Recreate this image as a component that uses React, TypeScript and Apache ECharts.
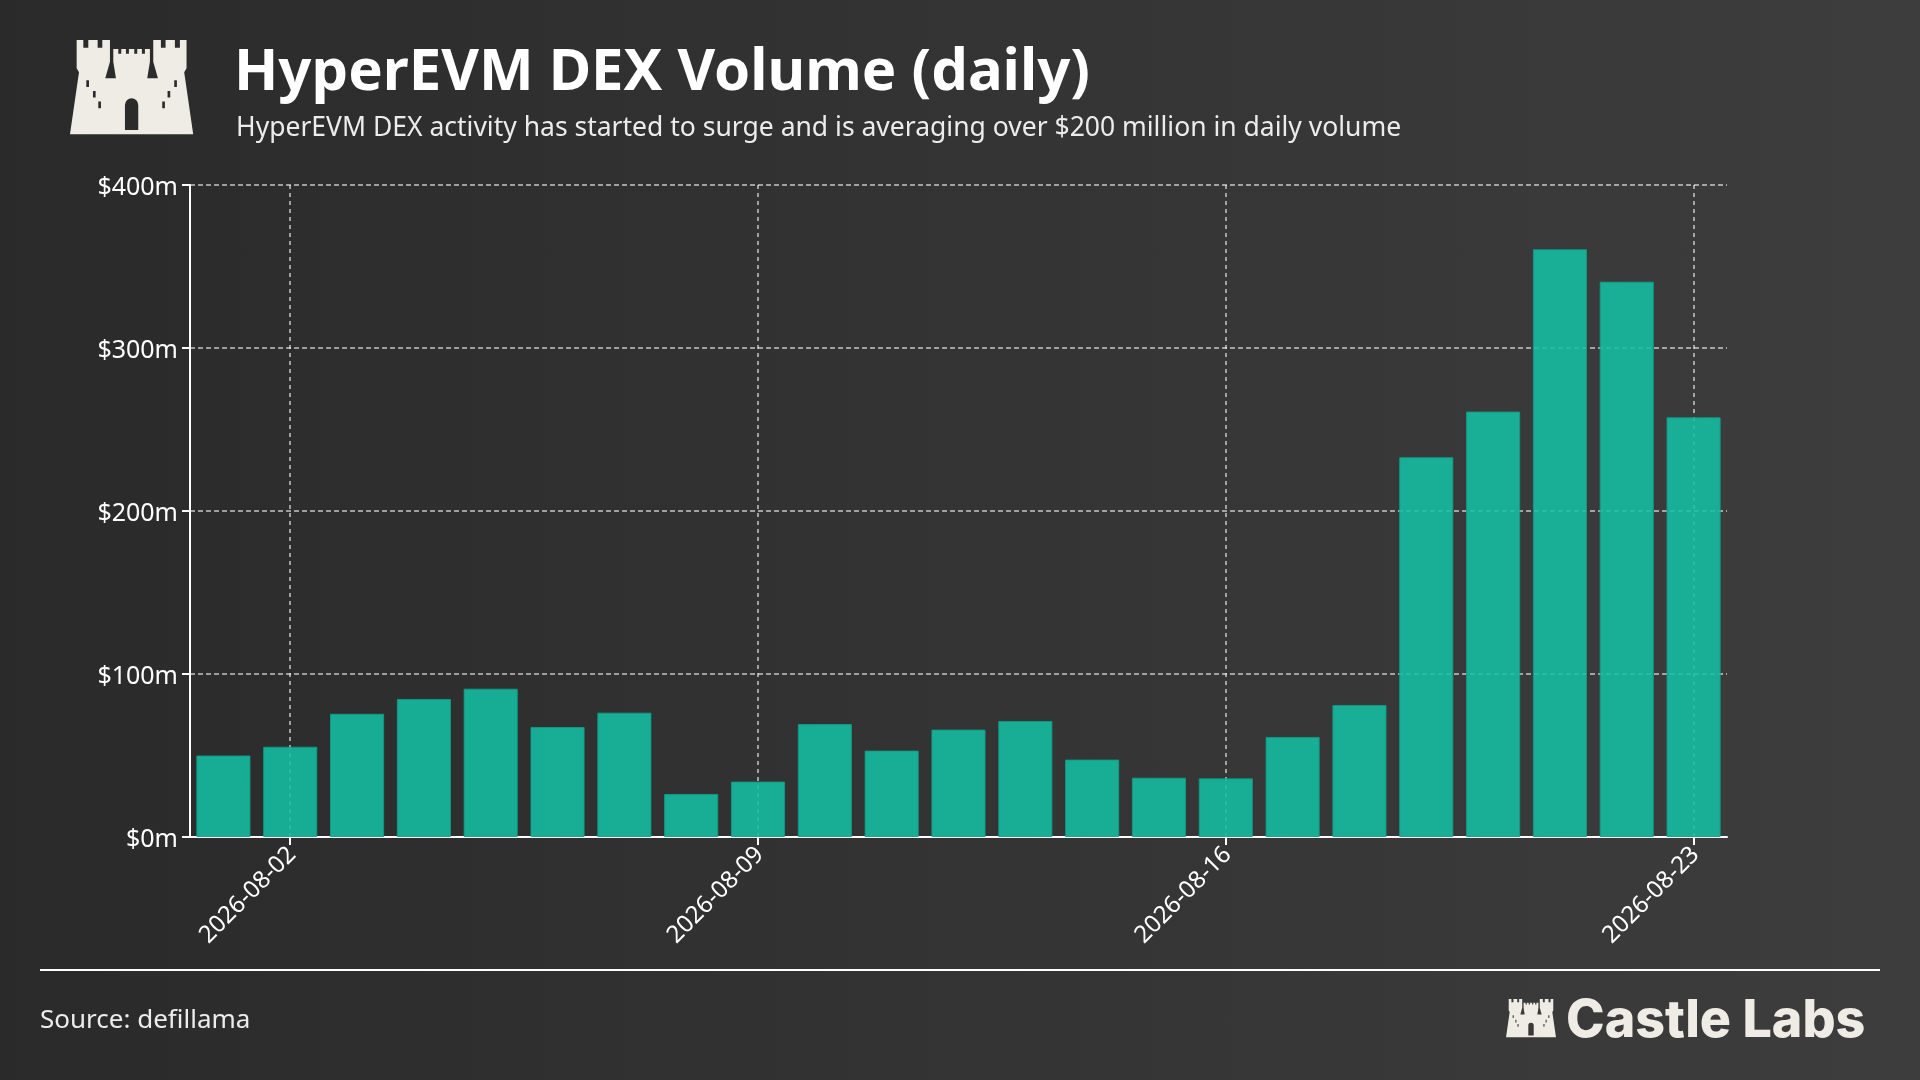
import React, { useEffect, useRef } from "react";
import * as echarts from "echarts";

// ---------- data ----------
const dates = [
  "2026-08-01", "2026-08-02", "2026-08-03", "2026-08-04", "2026-08-05", "2026-08-06",
  "2026-08-07", "2026-08-08", "2026-08-09", "2026-08-10", "2026-08-11", "2026-08-12",
  "2026-08-13", "2026-08-14", "2026-08-15", "2026-08-16", "2026-08-17", "2026-08-18",
  "2026-08-19", "2026-08-20", "2026-08-21", "2026-08-22", "2026-08-23",
];
const volumeMillions = [
  50, 55.4, 75.6, 84.7, 91, 67.5, 76.3, 26.4, 34, 69.3, 53, 65.9,
  71.2, 47.5, 36.4, 36, 61.4, 81, 233, 261, 360.6, 340.7, 257.5,
];
const labeledDates = ["2026-08-02", "2026-08-09", "2026-08-16", "2026-08-23"];
const yMin = 0;
const yMax = 400;
const yStep = 100;

const titleText = "HyperEVM DEX Volume (daily)";
const subtitleText =
  "HyperEVM DEX activity has started to surge and is averaging over $200 million in daily volume";
const sourceText = "Source: defillama";
const brandText = "Castle Labs";

// ---------- castle logo geometry (local units) ----------
const castleOutline: number[][] = [
  [15, 298], [42, 112], [35, 100], [35, 15],
  [55, 15], [55, 38], [70, 38], [70, 15], [98, 15], [98, 38], [112, 38], [112, 15], [135, 15],
  [135, 80], [121, 130], [153, 130], [145, 80], [145, 42],
  [160, 42], [160, 56], [169, 56], [169, 42], [183, 42], [183, 56], [192, 56], [192, 42],
  [208, 42], [208, 56], [217, 56], [217, 42], [231, 42], [231, 56], [240, 56], [240, 42], [255, 42],
  [255, 80], [247, 130], [279, 130], [265, 80], [265, 15],
  [288, 15], [288, 38], [302, 38], [302, 15], [330, 15], [330, 38], [345, 38], [345, 15], [365, 15],
  [365, 100], [358, 112], [385, 298],
];
const castleWindows: number[][] = [
  [64, 136, 8, 20], [84, 168, 8, 20], [100, 200, 8, 20],
  [328, 136, 8, 20], [308, 168, 8, 20], [292, 200, 8, 20],
];

function buildCastlePath(): string {
  let d = "M" + castleOutline.map((p) => p[0] + " " + p[1]).join(" L") + " Z ";
  castleWindows.forEach(([x, y, w, h]) => {
    d += `M${x} ${y} L${x} ${y + h} L${x + w} ${y + h} L${x + w} ${y} Z `;
  });
  d += "M180 285 L220 285 L220 210 A20 20 0 0 0 180 210 Z";
  return d;
}

let castleRegistered = false;
function ensureCastle() {
  if (castleRegistered) return;
  echarts.graphic.registerShape("castle", echarts.graphic.extendPath(buildCastlePath(), {}) as any);
  castleRegistered = true;
}

const isLabeled = (_i: number, v: string) => labeledDates.includes(v);

export default function App() {
  const ref = useRef<HTMLDivElement>(null);

  useEffect(() => {
    if (!ref.current) return;
    ensureCastle();
    const chart = echarts.init(ref.current, undefined, { renderer: "svg" });
    const cream = "#efebe5";
    const font = "'Noto Sans', sans-serif";

    chart.setOption({
      animation: false,
      graphic: [
        {
          type: "rect",
          z: -100,
          silent: true,
          shape: { x: 0, y: 0, width: 1920, height: 1080 },
          style: {
            fill: {
              type: "linear", x: 0, y: 0, x2: 1, y2: 0,
              colorStops: [
                { offset: 0, color: "#2a2a2a" },
                { offset: 1, color: "#3d3d3d" },
              ],
            },
          },
        },
        {
          type: "castle",
          x: 65, y: 35, scaleX: 1 / 3, scaleY: 1 / 3,
          style: { fill: cream },
        },
        {
          type: "text",
          x: 234, y: 67,
          style: {
            text: titleText, fill: "#ffffff", fontSize: 58, fontWeight: "bold",
            fontFamily: font, verticalAlign: "middle",
          },
        },
        {
          type: "text",
          x: 236, y: 126,
          style: {
            text: subtitleText, fill: "#ececec", fontSize: 26.5,
            fontFamily: font, verticalAlign: "middle",
          },
        },
        {
          type: "line",
          shape: { x1: 40, y1: 970, x2: 1880, y2: 970 },
          style: { stroke: "#ffffff", lineWidth: 2 },
        },
        {
          type: "text",
          x: 40, y: 1018,
          style: {
            text: sourceText, fill: "#ececec", fontSize: 26,
            fontFamily: font, verticalAlign: "middle",
          },
        },
        {
          type: "castle",
          x: 1504, y: 997, scaleX: 0.135, scaleY: 0.135,
          style: { fill: cream },
        },
        {
          type: "text",
          x: 1566, y: 1018,
          style: {
            text: brandText, fill: cream, fontSize: 52, fontWeight: 800,
            fontFamily: "Inter, sans-serif", verticalAlign: "middle",
          },
        },
      ],
      grid: { left: 190, right: 193, top: 185, bottom: 243 },
      xAxis: {
        type: "category",
        data: dates,
        boundaryGap: true,
        axisLine: { lineStyle: { color: "#ffffff", width: 2 } },
        axisTick: {
          show: true, alignWithLabel: true, interval: isLabeled, length: 8,
          lineStyle: { color: "#ffffff", width: 2 },
        },
        axisLabel: {
          interval: isLabeled, rotate: 45, color: "#ffffff", fontSize: 24,
          fontFamily: font, margin: 12,
        },
        splitLine: {
          show: true, interval: isLabeled, alignWithLabel: true,
          lineStyle: { color: "rgba(255,255,255,0.72)", width: 1.5, type: [4, 4] },
        },
      },
      yAxis: {
        type: "value",
        min: yMin, max: yMax, interval: yStep,
        axisLine: { show: true, lineStyle: { color: "#ffffff", width: 2 } },
        axisTick: { show: true, length: 8, lineStyle: { color: "#ffffff", width: 2 } },
        axisLabel: {
          color: "#ffffff", fontSize: 25, fontFamily: font, margin: 12,
          formatter: (v: number) => `$${v}m`,
        },
        splitLine: {
          show: true,
          lineStyle: { color: "rgba(255,255,255,0.72)", width: 1.5, type: [5, 3] },
        },
      },
      series: [
        {
          type: "bar",
          data: volumeMillions,
          barCategoryGap: "19%",
          itemStyle: { color: "#15bea3", opacity: 0.88, borderColor: "#109c86", borderWidth: 1 },
        },
      ],
    });

    return () => chart.dispose();
  }, []);

  return (
    <div
      ref={ref}
      style={{ position: "fixed", left: 0, top: 0, width: 1920, height: 1080 }}
    />
  );
}
